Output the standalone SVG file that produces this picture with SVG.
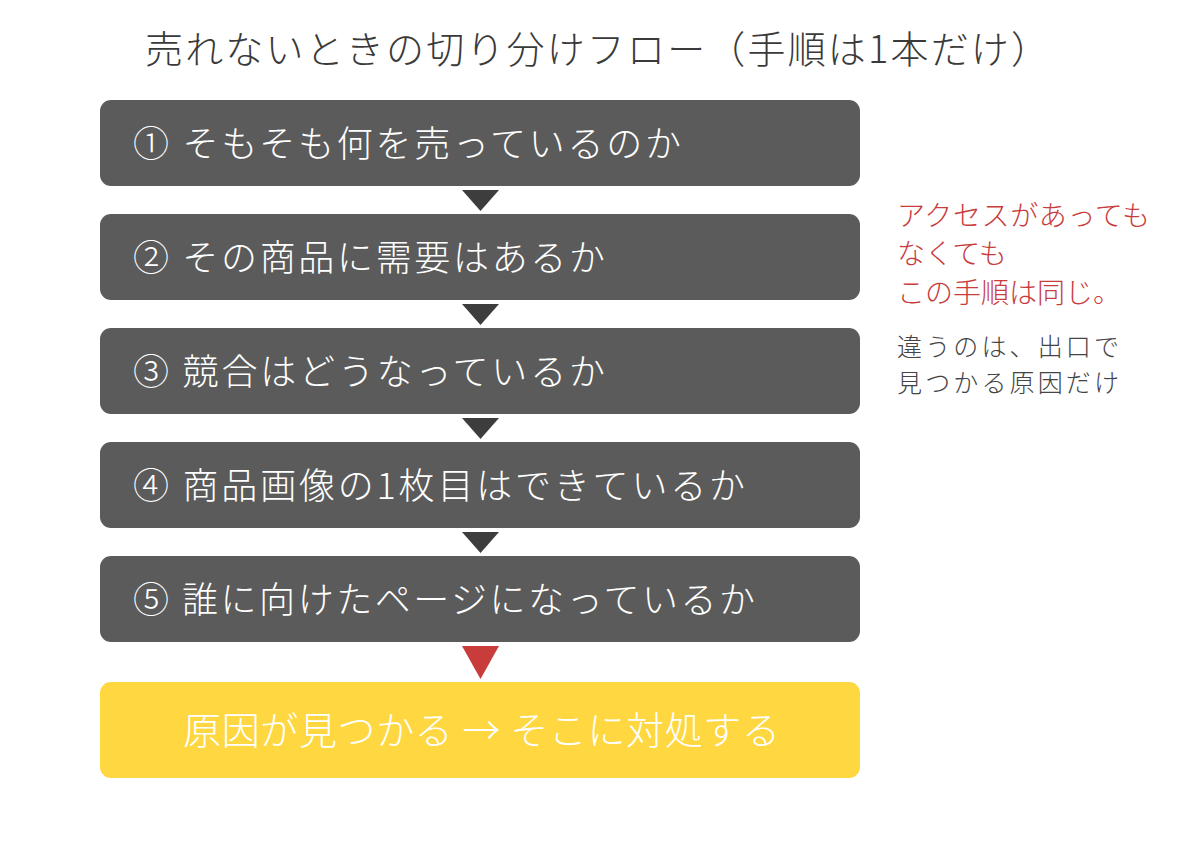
<svg xmlns="http://www.w3.org/2000/svg" width="1200" height="860" viewBox="0 0 1200 860">
<style>
  text { font-family: "Noto Sans CJK JP", "Noto Sans", sans-serif; font-weight: 300; }
  .title { font-size: 38px; fill: #3a3a3a; }
  .step rect { fill: #5b5b5b; }
  .step text { font-size: 36px; fill: #ffffff; }
  .result rect { fill: #ffd740; }
  .result text { font-size: 38px; fill: #ffffff; }
  .arrow { fill: #3d3d3d; }
  .arrow-red { fill: #c83c3c; }
  .note-red { font-size: 28px; fill: #c83c3c; }
  .note-gray { font-size: 25px; fill: #444444; }
</style>
<rect width="1200" height="860" fill="#ffffff"/>
<g id="title">
  <text class="title" x="145" y="63" textLength="904">売れないときの切り分けフロー（手順は1本だけ）</text>
</g>
<g id="step1" class="step">
  <rect x="100" y="100" width="760" height="86" rx="11"/>
  <text x="133" y="157" textLength="548">① そもそも何を売っているのか</text>
</g>
<g id="step2" class="step">
  <rect x="100" y="214" width="760" height="86" rx="11"/>
  <text x="133" y="271" textLength="472">② その商品に需要はあるか</text>
</g>
<g id="step3" class="step">
  <rect x="100" y="328" width="760" height="86" rx="11"/>
  <text x="133" y="385" textLength="472">③ 競合はどうなっているか</text>
</g>
<g id="step4" class="step">
  <rect x="100" y="442" width="760" height="86" rx="11"/>
  <text x="133" y="499" textLength="612">④ 商品画像の1枚目はできているか</text>
</g>
<g id="step5" class="step">
  <rect x="100" y="556" width="760" height="86" rx="11"/>
  <text x="133" y="613" textLength="622">⑤ 誰に向けたページになっているか</text>
</g>
<g id="result" class="result">
  <rect x="100" y="682" width="760" height="96" rx="11"/>
  <text x="183" y="744" textLength="597">原因が見つかる → そこに対処する</text>
</g>
<g id="connectors">
  <polygon class="arrow" points="462,190 499,190 480.5,211"/>
  <polygon class="arrow" points="462,304 499,304 480.5,325"/>
  <polygon class="arrow" points="462,418 499,418 480.5,439"/>
  <polygon class="arrow" points="462,532 499,532 480.5,553"/>
  <polygon class="arrow-red" points="462,646 499,646 480.5,679"/>
</g>
<g id="note">
  <text class="note-red" x="897" y="226" textLength="253">アクセスがあっても</text>
  <text class="note-red" x="897" y="264">なくても</text>
  <text class="note-red" x="897" y="303">この手順は同じ。</text>
  <text class="note-gray" x="897" y="356" textLength="222">違うのは、出口で</text>
  <text class="note-gray" x="897" y="392" textLength="222">見つかる原因だけ</text>
</g>
</svg>
